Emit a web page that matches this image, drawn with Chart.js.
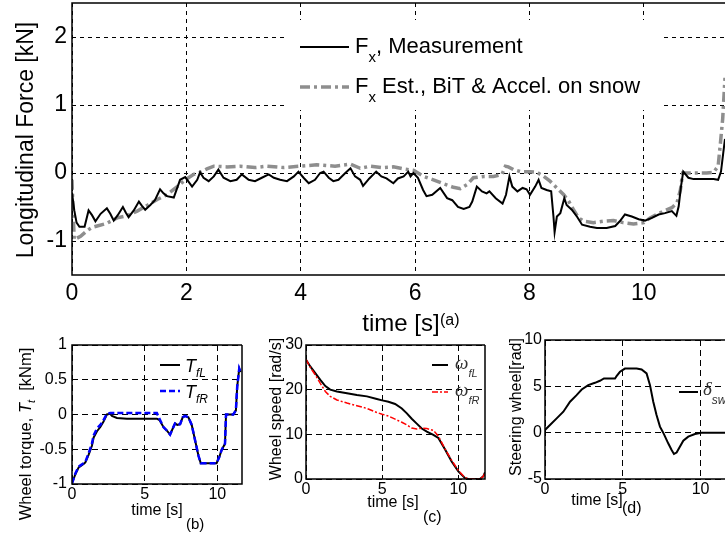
<!DOCTYPE html>
<html>
<head>
<meta charset="utf-8">
<title>Longitudinal force estimation on snow</title>
<script src="https://cdn.jsdelivr.net/npm/chart.js@4.4.1/dist/chart.umd.min.js"></script>
<style>
  html, body { margin: 0; padding: 0; background: #fff; }
  body { width: 725px; height: 533px; overflow: hidden; position: relative; }
  canvas { position: absolute; }
</style>
</head>
<body>
<canvas id="chartA" width="725" height="340" style="left:0;top:0"></canvas>
<canvas id="chartB" width="250" height="203" style="left:0;top:330px"></canvas>
<canvas id="chartC" width="240" height="203" style="left:250px;top:330px"></canvas>
<canvas id="chartD" width="240" height="203" style="left:490px;top:330px"></canvas>
<script>
// ---------- data ----------

// (a) longitudinal force [kN]
const forceTicksX = [0, 2, 4, 6, 8, 10];
const forceTicksY = [-1, 0, 1, 2];
const measTime = [0, 0.04, 0.08, 0.13, 0.22, 0.29, 0.35, 0.41, 0.5, 0.61, 0.67, 0.73, 0.8, 0.89, 0.94, 0.99,
    1.08, 1.17, 1.22, 1.28, 1.37, 1.45, 1.54, 1.6, 1.66, 1.78, 1.89, 1.98, 2.1, 2.19, 2.24, 2.3, 2.39, 2.48,
    2.56, 2.65, 2.77, 2.88, 2.97, 3.09, 3.2, 3.32, 3.44, 3.53, 3.64, 3.76, 3.88, 3.96, 4.05, 4.14, 4.25, 4.34,
    4.4, 4.49, 4.57, 4.66, 4.78, 4.87, 4.95, 5.04, 5.09, 5.2, 5.32, 5.41, 5.5, 5.62, 5.7, 5.8, 5.88, 5.92,
    5.97, 6.05, 6.14, 6.2, 6.3, 6.44, 6.56, 6.65, 6.75, 6.85, 6.95, 7.0, 7.08, 7.17, 7.25, 7.3, 7.41, 7.53,
    7.59, 7.65, 7.7, 7.79, 7.88, 7.95, 8.01, 8.1, 8.16, 8.21, 8.3, 8.38, 8.42, 8.44, 8.48, 8.54, 8.61, 8.65,
    8.74, 8.83, 8.92, 9.06, 9.18, 9.35, 9.5, 9.58, 9.67, 9.79, 9.91, 10.02, 10.14, 10.26, 10.37, 10.49, 10.57,
    10.61, 10.65, 10.69, 10.78, 10.87, 11.05, 11.22, 11.3, 11.35, 11.39, 11.42, 11.46, 11.5];
const measForce = [-0.29, -0.55, -0.73, -0.79, -0.79, -0.55, -0.62, -0.71, -0.6, -0.52, -0.6, -0.7, -0.62, -0.5, -0.58, -0.65,
    -0.55, -0.42, -0.48, -0.54, -0.47, -0.4, -0.24, -0.3, -0.34, -0.36, -0.1, -0.06, -0.2, -0.1, 0.01, -0.07, -0.12, -0.05,
    0.05, -0.07, -0.12, -0.1, -0.02, -0.1, -0.12, -0.07, -0.02, -0.07, -0.1, -0.12, -0.05, 0.02, -0.07, -0.15, -0.1, 0,
    0.02, -0.07, -0.12, -0.1, 0, 0.07, -0.05, -0.1, -0.19, -0.08, 0.02, -0.05, -0.08, -0.15, -0.08, -0.05, 0.02, -0.05,
    0, -0.07, -0.25, -0.34, -0.32, -0.22, -0.37, -0.4, -0.5, -0.53, -0.5, -0.42, -0.2, -0.27, -0.3, -0.27, -0.37, -0.45,
    -0.32, -0.05, -0.2, -0.27, -0.22, -0.24, -0.32, -0.2, -0.1, -0.22, -0.25, -0.27, -0.64, -0.87, -0.64, -0.59, -0.37, -0.47,
    -0.54, -0.64, -0.76, -0.79, -0.81, -0.81, -0.78, -0.71, -0.61, -0.64, -0.68, -0.7, -0.66, -0.61, -0.59, -0.56, -0.63,
    -0.49, -0.2, 0.02, -0.07, -0.09, -0.09, -0.09, -0.1, 0.02, 0.3, 0.5, 0.9, 1.3];
const estTime = [0, 0.02, 0.04, 0.15, 0.26, 0.35, 0.44, 0.61, 0.79, 0.96, 1.14, 1.31, 1.49, 1.66, 1.84, 1.98,
    2.13, 2.24, 2.36, 2.48, 2.71, 2.94, 3.2, 3.41, 3.7, 3.99, 4.28, 4.6, 4.87, 5.04, 5.22, 5.42, 5.62, 5.8,
    5.97, 6.15, 6.32, 6.5, 6.67, 6.79, 6.91, 7.02, 7.2, 7.37, 7.52, 7.58, 7.63, 7.72, 7.84, 8.01, 8.13, 8.25,
    8.36, 8.48, 8.6, 8.69, 8.77, 8.86, 8.95, 9.12, 9.29, 9.47, 9.64, 9.82, 10.0, 10.11, 10.23, 10.35, 10.49,
    10.58, 10.64, 10.68, 10.78, 10.93, 11.1, 11.22, 11.3, 11.34, 11.38, 11.42, 11.46];
const estForce = [-0.1, -0.6, -0.98, -0.93, -0.85, -0.8, -0.78, -0.74, -0.66, -0.63, -0.56, -0.48, -0.39, -0.32, -0.2, -0.1,
    -0.02, 0.01, 0.06, 0.1, 0.09, 0.1, 0.08, 0.1, 0.08, 0.1, 0.12, 0.1, 0.13, 0.07, 0.1, 0.08, 0.09, 0.06,
    0.04, -0.05, -0.1, -0.16, -0.21, -0.23, -0.17, -0.07, -0.05, -0.05, -0.02, 0.1, 0.09, 0.05, 0.02, 0.02, 0.01, -0.05,
    -0.12, -0.22, -0.32, -0.42, -0.54, -0.66, -0.71, -0.73, -0.71, -0.7, -0.73, -0.75, -0.73, -0.66, -0.61, -0.56, -0.51,
    -0.44, -0.25, 0, 0, 0, 0, 0.01, 0.1, 0.44, 0.8, 1.4, 1.9];

// (b) wheel torque [kNm]
const smallTicksX = [0, 5, 10];
const torqueTicksY = [-1, -0.5, 0, 0.5, 1];
const torqueTime = [0, 0.23, 0.46, 0.8, 0.92, 1.14, 1.37, 1.49, 1.72, 1.95, 2.17, 2.4, 2.63, 2.75, 3.09, 3.78,
    5.84, 6.02, 6.29, 6.52, 6.75, 6.98, 7.09, 7.25, 7.44, 7.62, 7.78, 8.01, 8.24, 8.47, 8.7, 8.86, 9.27, 9.73,
    9.95, 10.14, 10.3, 10.53, 10.6, 11.1, 11.28, 11.37, 11.51, 11.6];
const torqueFL = [-0.99, -0.86, -0.76, -0.71, -0.69, -0.58, -0.45, -0.33, -0.24, -0.18, -0.1, 0.0, 0.01, -0.02, -0.05, -0.06,
    -0.06, -0.08, -0.18, -0.23, -0.29, -0.18, -0.13, -0.15, -0.14, -0.04, -0.02, -0.04, -0.15, -0.37, -0.59, -0.7, -0.7, -0.7,
    -0.7, -0.61, -0.51, -0.42, 0, 0, 0.06, 0.4, 0.66, 0.61];
const torqueFR = [-0.99, -0.85, -0.75, -0.7, -0.68, -0.56, -0.42, -0.3, -0.2, -0.15, -0.08, 0.01, 0.02, 0.02, 0.02, 0.02,
    0.02, -0.06, -0.18, -0.23, -0.29, -0.18, -0.13, -0.15, -0.14, -0.04, -0.02, -0.04, -0.15, -0.37, -0.59, -0.7, -0.7, -0.7,
    -0.7, -0.61, -0.51, -0.42, 0, 0, 0.06, 0.4, 0.66, 0.61];

// (c) wheel speed [rad/s]
const speedTicksY = [0, 10, 20, 30];
const speedTime = [0, 0.28, 0.61, 0.94, 1.27, 1.59, 2.03, 2.69, 3.34, 4.0, 4.65, 5.0, 5.41, 5.85, 6.29, 6.62,
    6.94, 7.27, 7.6, 7.93, 8.36, 8.69, 9.13, 9.56, 10.0, 10.44, 10.66, 11.42, 11.64, 11.75];
const speedFL = [26.7, 25.2, 23.7, 22.2, 20.8, 20.0, 19.6, 19.2, 18.8, 18.5, 17.9, 17.6, 17.3, 16.8, 15.8, 14.7,
    13.5, 12.4, 11.3, 10.6, 9.9, 9.2, 6.6, 3.9, 1.7, 0.2, 0, 0, 0.6, 1.5];
const speedFR = [26.8, 25.0, 23.3, 21.4, 19.6, 18.5, 17.7, 17.0, 16.4, 15.8, 14.9, 14.5, 14.1, 13.4, 12.7, 12.1,
    11.4, 11.2, 11.4, 11.3, 10.9, 9.6, 6.7, 4.2, 1.9, 0.3, 0, 0, 0.6, 1.5];

// (d) steering wheel angle [rad]
const steerTicksY = [-5, 0, 5, 10];
const steerTime = [0, 0.32, 0.75, 1.18, 1.61, 2.03, 2.36, 2.78, 3.21, 3.53, 3.79, 4.5, 4.6, 4.82, 5.14, 5.89,
    6.21, 6.53, 6.75, 6.96, 7.17, 7.39, 7.6, 7.92, 8.14, 8.29, 8.46, 8.67, 8.89, 9.21, 9.64, 10.06, 11.7];
const steerAngle = [0.29, 0.83, 1.54, 2.26, 3.34, 4.05, 4.66, 5.13, 5.38, 5.6, 5.85, 5.85, 6.1, 6.57, 6.92, 6.92,
    6.82, 6.39, 5.13, 3.34, 1.9, 0.65, 0, -1.15, -1.87, -2.3, -2.15, -1.51, -0.86, -0.43, -0.14, 0, 0];

// ---------- helpers ----------
const FONT = '"Liberation Sans", Arial, Helvetica, sans-serif';
const SERIF = '"Liberation Serif", "Times New Roman", serif';

const pts = (xs, ys) => xs.map((x, i) => ({ x: x, y: ys[i] }));

// draw a line of text made of runs (normal / italic / subscript)
function richText(ctx, n) {
    const base = n.size;
    const subSize = n.subSize || Math.round(base * 0.68);
    const fontOf = r => (r.it ? 'italic ' : '') + (r.sub ? subSize : base) + 'px ' + (r.serif ? SERIF : FONT);
    ctx.save();
    ctx.translate(n.x, n.y);
    if (n.rot) ctx.rotate(n.rot);
    ctx.fillStyle = n.color || '#000';
    ctx.textBaseline = 'alphabetic';
    ctx.textAlign = 'left';
    let w = 0;
    n.runs.forEach(r => { ctx.font = fontOf(r); w += ctx.measureText(r.t).width; });
    let x = n.align === 'center' ? -w / 2 : 0;
    n.runs.forEach(r => {
        ctx.font = fontOf(r);
        ctx.fillText(r.t, x, r.sub ? (n.subDy || base * 0.35) : 0);
        x += ctx.measureText(r.t).width;
    });
    ctx.restore();
}

// frame, legend and labels for each panel (page coordinates)
const decor = {
    chartA: {
        origin: [0, 0], closeRight: false,
        box: [287, 20, 376, 90],
        legend: [
            { ds: 0, x0: 300, x1: 349, y: 47,
              label: { x: 355, y: 53, size: 22, subSize: 15, subDy: 9, runs: [{ t: 'F' }, { t: 'x', sub: 1 }, { t: ', Measurement' }] } },
            { ds: 1, x0: 300, x1: 349, y: 87,
              label: { x: 355, y: 93, size: 22, subSize: 15, subDy: 9, runs: [{ t: 'F' }, { t: 'x', sub: 1 }, { t: ' Est., BiT & Accel. on snow' }] } }
        ],
        notes: [
            { x: 401, y: 331, size: 24, align: 'center', runs: [{ t: 'time [s]' }] },
            { x: 440, y: 325, size: 16, runs: [{ t: '(a)' }] },
            { x: 33, y: 140, size: 23, rot: -Math.PI / 2, align: 'center', runs: [{ t: 'Longitudinal Force [kN]' }] }
        ]
    },
    chartB: {
        origin: [0, 330], closeRight: true,
        legend: [
            { ds: 1, x0: 160, x1: 180, y: 365,
              label: { x: 185, y: 372, size: 18, subSize: 12, subDy: 5, runs: [{ t: 'T', it: 1 }, { t: 'fL', it: 1, sub: 1 }] } },
            { ds: 0, x0: 160, x1: 180, y: 391,
              label: { x: 185, y: 398, size: 18, subSize: 12, subDy: 5, runs: [{ t: 'T', it: 1 }, { t: 'fR', it: 1, sub: 1 }] } }
        ],
        notes: [
            { x: 157, y: 515, size: 16, align: 'center', runs: [{ t: 'time [s]' }] },
            { x: 186, y: 529, size: 15, runs: [{ t: '(b)' }] },
            { x: 31, y: 434, size: 16.5, rot: -Math.PI / 2, align: 'center', subSize: 11, subDy: 4,
              runs: [{ t: 'Wheel torque, ' }, { t: 'T', it: 1 }, { t: 't', it: 1, sub: 1 }, { t: '  [kNm]' }] }
        ]
    },
    chartC: {
        origin: [250, 330], closeRight: true,
        legend: [
            { ds: 1, x0: 432, x1: 448, y: 365,
              label: { x: 455, y: 369, size: 19, subSize: 11, subDy: 8, color: '#333',
                       runs: [{ t: 'ω', it: 1, serif: 1 }, { t: 'fL', it: 1, sub: 1 }] } },
            { ds: 0, x0: 432, x1: 448, y: 392,
              label: { x: 455, y: 396, size: 19, subSize: 11, subDy: 8, color: '#333',
                       runs: [{ t: 'ω', it: 1, serif: 1 }, { t: 'fR', it: 1, sub: 1 }] } }
        ],
        notes: [
            { x: 393, y: 507, size: 16, align: 'center', runs: [{ t: 'time [s]' }] },
            { x: 423, y: 522, size: 16, runs: [{ t: '(c)' }] },
            { x: 281, y: 409, size: 16, rot: -Math.PI / 2, align: 'center', runs: [{ t: 'Wheel speed [rad/s]' }] }
        ]
    },
    chartD: {
        origin: [490, 330], closeRight: false,
        legend: [
            { ds: 0, x0: 679, x1: 698, y: 392,
              label: { x: 703, y: 395, size: 19, subSize: 12, subDy: 9, color: '#333',
                       runs: [{ t: 'δ', it: 1, serif: 1 }, { t: 'sw', it: 1, sub: 1 }] } }
        ],
        notes: [
            { x: 597, y: 505, size: 16, align: 'center', runs: [{ t: 'time [s]' }] },
            { x: 622, y: 513, size: 16, runs: [{ t: '(d)' }] },
            { x: 521, y: 407, size: 16, rot: -Math.PI / 2, align: 'center', runs: [{ t: 'Steering wheel[rad]' }] }
        ]
    }
};

const decorations = {
    id: 'decorations',
    afterDraw(chart) {
        const d = decor[chart.canvas.id];
        if (!d) return;
        const ctx = chart.ctx;
        const a = chart.chartArea;
        const ox = d.origin[0], oy = d.origin[1];
        ctx.save();
        // axes box
        ctx.strokeStyle = '#000';
        ctx.lineWidth = 1.5;
        ctx.beginPath();
        ctx.moveTo(a.right, a.top);
        ctx.lineTo(a.left, a.top);
        ctx.lineTo(a.left, a.bottom);
        ctx.lineTo(a.right, a.bottom);
        if (d.closeRight) ctx.lineTo(a.right, a.top);
        ctx.stroke();
        // legend
        if (d.box) {
            ctx.fillStyle = '#fff';
            ctx.fillRect(d.box[0] - ox, d.box[1] - oy, d.box[2], d.box[3]);
        }
        (d.legend || []).forEach(item => {
            const ds = chart.data.datasets[item.ds];
            ctx.save();
            ctx.strokeStyle = ds.borderColor;
            ctx.lineWidth = ds.borderWidth;
            ctx.setLineDash(ds.borderDash || []);
            ctx.beginPath();
            ctx.moveTo(item.x0 - ox, item.y - oy);
            ctx.lineTo(item.x1 - ox, item.y - oy);
            ctx.stroke();
            ctx.restore();
            richText(ctx, Object.assign({}, item.label, { x: item.label.x - ox, y: item.label.y - oy }));
        });
        (d.notes || []).forEach(n => richText(ctx, Object.assign({}, n, { x: n.x - ox, y: n.y - oy })));
        ctx.restore();
    }
};

function axis(o) {
    return {
        type: 'linear',
        min: o.min,
        max: o.max,
        afterBuildTicks: s => { s.ticks = o.ticks.map(v => ({ value: v })); },
        afterFit: s => {
            if (o.height !== undefined) s.height = o.height;
            if (o.width !== undefined) s.width = o.width;
            s.paddingTop = 0; s.paddingBottom = 0; s.paddingLeft = 0; s.paddingRight = 0;
        },
        grid: { color: '#000', lineWidth: 1, drawTicks: false },
        border: { display: false, dash: o.dash },
        ticks: {
            color: '#000',
            font: { family: FONT, size: o.font },
            padding: o.pad,
            maxRotation: 0,
            autoSkip: false,
            callback: v => String(v)
        }
    };
}

function panel(id, cfg) {
    return new Chart(document.getElementById(id), {
        type: 'line',
        data: { datasets: cfg.datasets },
        options: {
            responsive: false,
            animation: false,
            devicePixelRatio: 1,
            events: [],
            layout: { padding: { top: cfg.top, right: cfg.right, left: 0, bottom: 0 } },
            elements: { point: { radius: 0 }, line: { tension: 0, borderCapStyle: 'butt' } },
            plugins: { legend: { display: false }, tooltip: { enabled: false } },
            scales: { x: cfg.x, y: cfg.y }
        },
        plugins: [decorations]
    });
}

// ---------- panels ----------
panel('chartA', {
    top: 3, right: 0,
    datasets: [
        { data: pts(measTime, measForce), borderColor: '#000', borderWidth: 2 },
        { data: pts(estTime, estForce), borderColor: '#8e8e8e', borderWidth: 3.5, borderDash: [10, 4, 3, 4] }
    ],
    x: axis({ min: 0, max: 11.42, ticks: forceTicksX, height: 65, font: 23, pad: 5, dash: [4, 4] }),
    y: axis({ min: -1.5, max: 2.5, ticks: forceTicksY, width: 72, font: 23, pad: 5, dash: [4, 4] })
});

panel('chartB', {
    top: 15, right: 8,
    datasets: [
        { data: pts(torqueTime, torqueFR), borderColor: '#0000ff', borderWidth: 2.5, borderDash: [6, 3] },
        { data: pts(torqueTime, torqueFL), borderColor: '#000', borderWidth: 2 }
    ],
    x: axis({ min: 0, max: 11.7, ticks: smallTicksX, height: 49, font: 16, pad: 1, dash: [6, 4] }),
    y: axis({ min: -1, max: 1, ticks: torqueTicksY, width: 72, font: 16, pad: 5, dash: [6, 4] })
});

panel('chartC', {
    top: 15, right: 5,
    datasets: [
        { data: pts(speedTime, speedFR), borderColor: '#ff0000', borderWidth: 1.5, borderDash: [6, 2, 2, 2] },
        { data: pts(speedTime, speedFL), borderColor: '#000', borderWidth: 2 }
    ],
    x: axis({ min: 0, max: 11.75, ticks: smallTicksX, height: 54, font: 16, pad: 1, dash: [6, 4] }),
    y: axis({ min: 0, max: 30, ticks: speedTicksY, width: 56, font: 16, pad: 3, dash: [6, 4] })
});

panel('chartD', {
    top: 10, right: 3,
    datasets: [
        { data: pts(steerTime, steerAngle), borderColor: '#000', borderWidth: 2 }
    ],
    x: axis({ min: 0, max: 11.7, ticks: smallTicksX, height: 54, font: 16, pad: 1, dash: [6, 4] }),
    y: axis({ min: -5, max: 10, ticks: steerTicksY, width: 55, font: 16, pad: 3, dash: [6, 4] })
});
</script>
</body>
</html>
